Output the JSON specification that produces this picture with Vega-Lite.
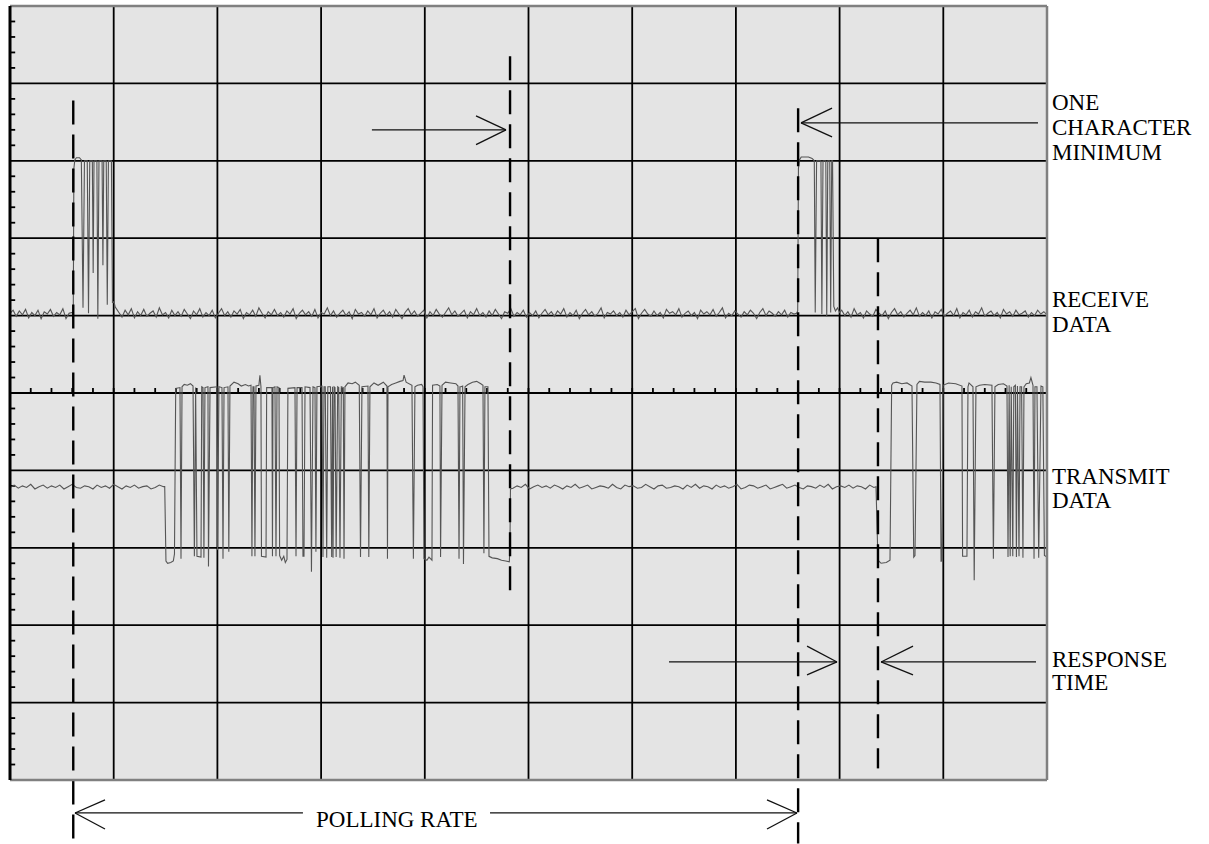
{
  "$schema": "https://vega.github.io/schema/vega-lite/v6.json",
  "width": 1037,
  "height": 774,
  "autosize": {"type": "none"},
  "padding": {"left": 10, "top": 6, "right": 162, "bottom": 64},
  "background": "white",
  "config": {"view": {"fill": "#e4e4e4", "stroke": null}},
  "datasets": {
    "gridV": [{"t":100},{"t":200},{"t":300},{"t":400},{"t":500},{"t":600},{"t":700},{"t":800},{"t":900}],
    "gridH": [{"v":100},{"v":200},{"v":300},{"v":400},{"v":500},{"v":600},{"v":700},{"v":800},{"v":900}],
    "leftTicks": [{"v":20},{"v":40},{"v":60},{"v":80},{"v":120},{"v":140},{"v":160},{"v":180},{"v":220},{"v":240},{"v":260},{"v":280},{"v":320},{"v":340},{"v":360},{"v":380},{"v":420},{"v":440},{"v":460},{"v":480},{"v":520},{"v":540},{"v":560},{"v":580},{"v":620},{"v":640},{"v":660},{"v":680},{"v":720},{"v":740},{"v":760},{"v":780},{"v":820},{"v":840},{"v":860},{"v":880},{"v":920},{"v":940},{"v":960},{"v":980}],
    "centerTicks": [{"t":20},{"t":40},{"t":60},{"t":80},{"t":100},{"t":120},{"t":140},{"t":160},{"t":180},{"t":200},{"t":220},{"t":240},{"t":260},{"t":280},{"t":300},{"t":320},{"t":340},{"t":360},{"t":380},{"t":400},{"t":420},{"t":440},{"t":460},{"t":480},{"t":500},{"t":520},{"t":540},{"t":560},{"t":580},{"t":600},{"t":620},{"t":640},{"t":660},{"t":680},{"t":700},{"t":720},{"t":740},{"t":760},{"t":780},{"t":800},{"t":820},{"t":840},{"t":860},{"t":880},{"t":900},{"t":920},{"t":940},{"t":960},{"t":980}],
    "dashed": [{"t":61,"v1":878,"v2":-82},{"t":482.2,"v1":935,"v2":245},{"t":760,"v1":868,"v2":-82},{"t":837,"v1":700,"v2":15}],
    "arrows": [
      {"t1":349,"v1":840,"t2":478.3,"v2":840},{"t1":478.3,"v1":840,"t2":449.4,"v2":858},{"t1":478.3,"v1":840,"t2":449.4,"v2":821},
      {"t1":762.8,"v1":849,"t2":991.3,"v2":849},{"t1":762.8,"v1":849,"t2":792.7,"v2":868},{"t1":762.8,"v1":849,"t2":792.7,"v2":831},
      {"t1":635.5,"v1":152.5,"t2":797.5,"v2":152.5},{"t1":797.5,"v1":152.5,"t2":768.6,"v2":173},{"t1":797.5,"v1":152.5,"t2":768.6,"v2":135.7},
      {"t1":840,"v1":152.5,"t2":989.4,"v2":152.5},{"t1":840,"v1":152.5,"t2":870.8,"v2":173},{"t1":840,"v1":152.5,"t2":870.8,"v2":135.7},
      {"t1":62.7,"v1":-42.6,"t2":282.5,"v2":-42.6},{"t1":462.9,"v1":-42.6,"t2":758.9,"v2":-42.6},
      {"t1":62.7,"v1":-42.6,"t2":91.6,"v2":-25.8},{"t1":62.7,"v1":-42.6,"t2":91.6,"v2":-63.3},
      {"t1":758.9,"v1":-42.6,"t2":730,"v2":-25.8},{"t1":758.9,"v1":-42.6,"t2":730,"v2":-63.3}
    ],
    "sideLabels": [{"t":1004.8,"v":865.6,"label":"ONE"},{"t":1004.8,"v":833.3,"label":"CHARACTER"},{"t":1004.8,"v":801,"label":"MINIMUM"},{"t":1004.8,"v":611,"label":"RECEIVE"},{"t":1004.8,"v":578.8,"label":"DATA"},{"t":1004.8,"v":382.4,"label":"TRANSMIT"},{"t":1004.8,"v":351.4,"label":"DATA"},{"t":1004.8,"v":146,"label":"RESPONSE"},{"t":1004.8,"v":116.3,"label":"TIME"}],
    "centerLabels": [{"t":373,"v":-60.7,"label":"POLLING RATE"}],
    "rx": [
      {"t":0,"v":603},{"t":3,"v":607},{"t":6,"v":599},{"t":9,"v":606},{"t":12,"v":601},{"t":15,"v":608},{"t":18,"v":597},{"t":21,"v":604},{"t":24,"v":600},{"t":27,"v":607},{"t":30,"v":596},{"t":33,"v":605},{"t":36,"v":602},{"t":39,"v":608},{"t":42,"v":599},{"t":45,"v":604},{"t":48,"v":601},{"t":51,"v":609},{"t":54,"v":596},{"t":57,"v":603},{"t":60,"v":604},
      {"t":61,"v":601},{"t":61.6,"v":790},{"t":62.5,"v":801},{"t":64,"v":804},{"t":67,"v":804},{"t":68.8,"v":801},{"t":70.4,"v":610},{"t":71.8,"v":800},{"t":74.5,"v":800},{"t":75.7,"v":603},{"t":76.9,"v":800},{"t":79.4,"v":800},{"t":80.2,"v":655},{"t":81,"v":800},{"t":83.8,"v":800},{"t":84.7,"v":596},{"t":85.8,"v":800},{"t":88.8,"v":800},{"t":89.6,"v":665},{"t":90.4,"v":800},{"t":92.8,"v":800},{"t":93.8,"v":614},{"t":94.9,"v":800},{"t":97.8,"v":800},{"t":98.8,"v":617},{"t":100.2,"v":618},{"t":101.5,"v":611},{"t":103,"v":608},
      {"t":105,"v":604},{"t":108,"v":598},{"t":111,"v":607},{"t":114,"v":601},{"t":117,"v":609},{"t":120,"v":597},{"t":123,"v":605},{"t":126,"v":600},{"t":129,"v":608},{"t":132,"v":599},
      {"t":135,"v":603},{"t":138,"v":606},{"t":141,"v":598},{"t":144,"v":610},{"t":147,"v":601},{"t":150,"v":604},{"t":153,"v":597},{"t":156,"v":607},{"t":159,"v":600},{"t":162,"v":605},
      {"t":165,"v":599},{"t":168,"v":608},{"t":171,"v":602},{"t":174,"v":596},{"t":177,"v":606},{"t":180,"v":601},{"t":183,"v":609},{"t":186,"v":598},{"t":189,"v":604},{"t":192,"v":600},
      {"t":195,"v":607},{"t":198,"v":597},{"t":201,"v":603},{"t":204,"v":609},{"t":207,"v":600},{"t":210,"v":605},{"t":213,"v":598},{"t":216,"v":606},{"t":219,"v":602},{"t":222,"v":608},
      {"t":225,"v":596},{"t":228,"v":604},{"t":231,"v":601},{"t":234,"v":607},{"t":237,"v":599},{"t":240,"v":610},{"t":243,"v":603},{"t":246,"v":597},{"t":249,"v":605},{"t":252,"v":601},
      {"t":255,"v":608},{"t":258,"v":600},{"t":261,"v":604},{"t":264,"v":598},{"t":267,"v":606},{"t":270,"v":602},{"t":273,"v":609},{"t":276,"v":596},{"t":279,"v":603},{"t":282,"v":607},
      {"t":285,"v":601},{"t":288,"v":605},{"t":291,"v":599},{"t":294,"v":608},{"t":297,"v":597},{"t":300,"v":604},{"t":303,"v":602},{"t":306,"v":610},{"t":309,"v":600},{"t":312,"v":606},
      {"t":315,"v":598},{"t":318,"v":603},{"t":321,"v":607},{"t":324,"v":600},{"t":327,"v":605},{"t":330,"v":596},{"t":333,"v":608},{"t":336,"v":602},{"t":339,"v":604},{"t":342,"v":599},
      {"t":345,"v":606},{"t":348,"v":601},{"t":351,"v":609},{"t":354,"v":597},{"t":357,"v":603},{"t":360,"v":607},{"t":363,"v":600},{"t":366,"v":605},{"t":369,"v":598},{"t":372,"v":608},
      {"t":375,"v":602},{"t":378,"v":596},{"t":381,"v":604},{"t":384,"v":609},{"t":387,"v":601},{"t":390,"v":606},{"t":393,"v":599},{"t":396,"v":603},{"t":399,"v":607},{"t":402,"v":597},
      {"t":405,"v":605},{"t":408,"v":600},{"t":411,"v":608},{"t":414,"v":602},{"t":417,"v":598},{"t":420,"v":604},{"t":423,"v":610},{"t":426,"v":601},{"t":429,"v":606},{"t":432,"v":599},
      {"t":435,"v":603},{"t":438,"v":607},{"t":441,"v":597},{"t":444,"v":605},{"t":447,"v":601},{"t":450,"v":609},{"t":453,"v":600},{"t":456,"v":604},{"t":459,"v":598},{"t":462,"v":606},
      {"t":465,"v":600},{"t":468,"v":608},{"t":471,"v":602},{"t":474,"v":596},{"t":477,"v":605},{"t":480,"v":603},{"t":483,"v":609},{"t":486,"v":599},{"t":489,"v":604},{"t":492,"v":601},
      {"t":495,"v":607},{"t":498,"v":598},{"t":501,"v":604},{"t":504,"v":600},{"t":507,"v":606},{"t":510,"v":597},{"t":513,"v":603},{"t":516,"v":608},{"t":519,"v":601},{"t":522,"v":605},
      {"t":525,"v":599},{"t":528,"v":606},{"t":531,"v":602},{"t":534,"v":609},{"t":537,"v":598},{"t":540,"v":604},{"t":543,"v":600},{"t":546,"v":607},{"t":549,"v":596},{"t":552,"v":603},
      {"t":555,"v":608},{"t":558,"v":601},{"t":561,"v":605},{"t":564,"v":599},{"t":567,"v":603},{"t":570,"v":610},{"t":573,"v":597},{"t":576,"v":604},{"t":579,"v":602},{"t":582,"v":606},
      {"t":585,"v":600},{"t":588,"v":604},{"t":591,"v":598},{"t":594,"v":607},{"t":597,"v":601},{"t":600,"v":605},{"t":603,"v":609},{"t":606,"v":596},{"t":609,"v":603},{"t":612,"v":608},
      {"t":615,"v":602},{"t":618,"v":599},{"t":621,"v":606},{"t":624,"v":600},{"t":627,"v":604},{"t":630,"v":597},{"t":633,"v":608},{"t":636,"v":603},{"t":639,"v":605},{"t":642,"v":601},
      {"t":645,"v":609},{"t":648,"v":598},{"t":651,"v":603},{"t":654,"v":606},{"t":657,"v":600},{"t":660,"v":604},{"t":663,"v":596},{"t":666,"v":607},{"t":669,"v":602},{"t":672,"v":605},
      {"t":675,"v":601},{"t":678,"v":608},{"t":681,"v":599},{"t":684,"v":604},{"t":687,"v":610},{"t":690,"v":597},{"t":693,"v":603},{"t":696,"v":600},{"t":699,"v":606},{"t":702,"v":602},
      {"t":705,"v":598},{"t":708,"v":605},{"t":711,"v":601},{"t":714,"v":607},{"t":717,"v":603},{"t":720,"v":596},{"t":723,"v":604},{"t":726,"v":609},{"t":729,"v":600},{"t":732,"v":606},
      {"t":735,"v":603},{"t":738,"v":599},{"t":741,"v":605},{"t":744,"v":601},{"t":747,"v":607},{"t":750,"v":598},{"t":753,"v":604},{"t":756,"v":602},
      {"t":758.5,"v":603},{"t":759.6,"v":606},{"t":760.3,"v":790},{"t":761.3,"v":801},{"t":763,"v":805},{"t":770,"v":805},{"t":773.5,"v":803},{"t":775.6,"v":800},{"t":776.5,"v":604},{"t":777.8,"v":800},{"t":782,"v":800},{"t":782.9,"v":602},{"t":784,"v":800},{"t":786.7,"v":800},{"t":787.6,"v":599},{"t":788.6,"v":800},{"t":790.5,"v":800},{"t":791.4,"v":604},{"t":792.4,"v":800},{"t":793.2,"v":800},{"t":794.4,"v":612},{"t":796,"v":606},{"t":798,"v":610},{"t":800,"v":604},
      {"t":802,"v":607},{"t":805,"v":600},{"t":808,"v":605},{"t":811,"v":598},{"t":814,"v":609},{"t":817,"v":601},{"t":820,"v":604},{"t":823,"v":597},{"t":826,"v":606},{"t":829,"v":602},
      {"t":832,"v":599},{"t":835,"v":608},{"t":838,"v":603},{"t":841,"v":600},{"t":844,"v":606},{"t":847,"v":596},{"t":850,"v":604},{"t":853,"v":609},{"t":856,"v":601},{"t":859,"v":605},
      {"t":862,"v":598},{"t":865,"v":603},{"t":868,"v":607},{"t":871,"v":601},{"t":874,"v":610},{"t":877,"v":599},{"t":880,"v":604},{"t":883,"v":600},{"t":886,"v":606},{"t":889,"v":597},
      {"t":892,"v":605},{"t":895,"v":602},{"t":898,"v":608},{"t":901,"v":599},{"t":904,"v":603},{"t":907,"v":606},{"t":910,"v":600},{"t":913,"v":609},{"t":916,"v":597},{"t":919,"v":604},
      {"t":922,"v":601},{"t":925,"v":607},{"t":928,"v":598},{"t":931,"v":605},{"t":934,"v":602},{"t":937,"v":610},{"t":940,"v":599},{"t":943,"v":603},{"t":946,"v":606},{"t":949,"v":600},
      {"t":952,"v":604},{"t":955,"v":597},{"t":958,"v":608},{"t":961,"v":602},{"t":964,"v":605},{"t":967,"v":599},{"t":970,"v":607},{"t":973,"v":601},{"t":976,"v":603},{"t":979,"v":606},
      {"t":982,"v":598},{"t":985,"v":604},{"t":988,"v":600},{"t":991,"v":607},{"t":994,"v":602},{"t":997,"v":605},{"t":1000,"v":601}
    ],
    "tx": [
      {"t":0,"v":378},{"t":4,"v":381},{"t":8,"v":377},{"t":12,"v":380},{"t":16,"v":378},{"t":20,"v":382},{"t":24,"v":376},{"t":28,"v":379},{"t":32,"v":381},{"t":36,"v":377},
      {"t":40,"v":380},{"t":44,"v":378},{"t":48,"v":381},{"t":52,"v":376},{"t":56,"v":379},{"t":60,"v":382},{"t":64,"v":378},{"t":68,"v":377},{"t":72,"v":380},{"t":76,"v":379},
      {"t":80,"v":376},{"t":84,"v":381},{"t":88,"v":378},{"t":92,"v":380},{"t":96,"v":377},{"t":100,"v":382},{"t":104,"v":379},{"t":108,"v":376},{"t":112,"v":380},{"t":116,"v":378},
      {"t":120,"v":381},{"t":124,"v":377},{"t":128,"v":379},{"t":132,"v":380},{"t":136,"v":376},{"t":140,"v":378},{"t":144,"v":381},{"t":148,"v":379},
      {"t":149.2,"v":379},{"t":150.4,"v":283},{"t":152,"v":280},{"t":155,"v":281},{"t":157.5,"v":283},{"t":158.6,"v":292},{"t":159.8,"v":506},{"t":163.9,"v":507},{"t":164.9,"v":286},{"t":165.9,"v":508},{"t":168,"v":511},{"t":171,"v":510},{"t":174,"v":512},{"t":176.5,"v":509},{"t":177.8,"v":289},{"t":179,"v":507},{"t":180.3,"v":289},{"t":184.2,"v":288},{"t":184.9,"v":508},{"t":186.1,"v":507},{"t":187,"v":287},{"t":188,"v":507},{"t":190.9,"v":508},{"t":191.4,"v":276},{"t":192.9,"v":507},{"t":199.6,"v":508},{"t":200.1,"v":297},{"t":201.5,"v":508},{"t":204.4,"v":507},{"t":205.4,"v":286},{"t":206.4,"v":507},{"t":210.2,"v":508},{"t":211,"v":295},{"t":212.1,"v":509},{"t":216,"v":514},{"t":220,"v":512},{"t":223,"v":509},{"t":227,"v":511},{"t":230,"v":509},{"t":232.4,"v":510},{"t":233.3,"v":289},{"t":234.3,"v":508},{"t":235.3,"v":508},{"t":236.2,"v":289},{"t":237.2,"v":509},{"t":240,"v":510},{"t":241,"v":523},{"t":242,"v":508},{"t":242.5,"v":289},{"t":246.9,"v":288},{"t":247.5,"v":507},{"t":252.6,"v":507},{"t":253.1,"v":289},{"t":253.6,"v":507},{"t":255.5,"v":508},{"t":256.5,"v":289},{"t":257.5,"v":508},{"t":259.4,"v":507},{"t":260,"v":290},{"t":262,"v":284},{"t":264,"v":289},{"t":265.5,"v":281},{"t":267.1,"v":285},{"t":268,"v":506},{"t":274.8,"v":507},{"t":275.8,"v":289},{"t":276.8,"v":507},{"t":281.6,"v":507},{"t":282.5,"v":289},{"t":283.5,"v":289},{"t":284.5,"v":508},{"t":289.3,"v":507},{"t":290.7,"v":269},{"t":292.2,"v":508},{"t":294.1,"v":507},{"t":295,"v":295},{"t":296,"v":508},{"t":300.9,"v":509},{"t":301.8,"v":288},{"t":302.8,"v":508},{"t":304,"v":508},{"t":305.4,"v":287},{"t":306.5,"v":508},{"t":309,"v":508},{"t":310.2,"v":288},{"t":311,"v":508},{"t":311.5,"v":287},{"t":312.5,"v":508},{"t":313.4,"v":507},{"t":314.5,"v":288},{"t":316,"v":508},{"t":317,"v":507},{"t":318.2,"v":287},{"t":319.5,"v":508},{"t":321.4,"v":507},{"t":322.1,"v":286},{"t":323,"v":508},{"t":326,"v":513},{"t":330,"v":512},{"t":333,"v":514},{"t":336.8,"v":510},{"t":338,"v":288},{"t":339.4,"v":508},{"t":345.2,"v":509},{"t":346,"v":288},{"t":347.1,"v":508},{"t":351,"v":513},{"t":355,"v":510},{"t":360,"v":514},{"t":363.5,"v":509},{"t":364,"v":286},{"t":364.5,"v":508},{"t":368,"v":511},{"t":372,"v":513},{"t":376,"v":515},{"t":379,"v":516},{"t":380,"v":523},{"t":382,"v":514},{"t":387.6,"v":510},{"t":389,"v":286},{"t":390.5,"v":508},{"t":393,"v":510},{"t":397,"v":511},{"t":398.3,"v":508},{"t":399.2,"v":286},{"t":402,"v":284},{"t":404,"v":288},{"t":406.9,"v":284},{"t":407.5,"v":510},{"t":412,"v":511},{"t":414.6,"v":509},{"t":415.2,"v":288},{"t":416.6,"v":510},{"t":420,"v":514},{"t":425,"v":513},{"t":430,"v":512},{"t":432,"v":509},{"t":433,"v":286},{"t":433.9,"v":508},{"t":434.9,"v":508},{"t":436.5,"v":509},{"t":437.3,"v":279},{"t":438.8,"v":508},{"t":441.6,"v":511},{"t":446,"v":514},{"t":450,"v":515},{"t":454,"v":512},{"t":456.1,"v":510},{"t":457,"v":293},{"t":458,"v":508},{"t":460.9,"v":508},{"t":461.9,"v":289},{"t":465,"v":287},{"t":470,"v":286},{"t":474,"v":284},{"t":478,"v":283},{"t":481.5,"v":282},{"t":482.1,"v":300},{"t":482.6,"v":376},
      {"t":485,"v":377},{"t":489,"v":380},{"t":493,"v":378},{"t":497,"v":382},{"t":501,"v":376},{"t":505,"v":379},{"t":509,"v":381},{"t":513,"v":378},{"t":517,"v":380},{"t":521,"v":377},
      {"t":525,"v":381},{"t":529,"v":379},{"t":533,"v":376},{"t":537,"v":380},{"t":541,"v":378},{"t":545,"v":382},{"t":549,"v":377},{"t":553,"v":379},{"t":557,"v":381},{"t":561,"v":376},
      {"t":565,"v":378},{"t":569,"v":380},{"t":573,"v":379},{"t":577,"v":377},{"t":581,"v":382},{"t":585,"v":378},{"t":589,"v":376},{"t":593,"v":381},{"t":597,"v":379},{"t":601,"v":380},
      {"t":605,"v":377},{"t":609,"v":378},{"t":613,"v":382},{"t":617,"v":379},{"t":621,"v":376},{"t":625,"v":380},{"t":629,"v":381},{"t":633,"v":377},{"t":637,"v":378},{"t":641,"v":380},
      {"t":645,"v":379},{"t":649,"v":376},{"t":653,"v":381},{"t":657,"v":378},{"t":661,"v":382},{"t":665,"v":377},{"t":669,"v":380},{"t":673,"v":379},{"t":677,"v":376},{"t":681,"v":381},
      {"t":685,"v":378},{"t":689,"v":380},{"t":693,"v":377},{"t":697,"v":379},{"t":701,"v":382},{"t":705,"v":376},{"t":709,"v":378},{"t":713,"v":381},{"t":717,"v":380},{"t":721,"v":377},
      {"t":725,"v":379},{"t":729,"v":381},{"t":733,"v":376},{"t":737,"v":378},{"t":741,"v":380},{"t":745,"v":382},{"t":749,"v":377},{"t":753,"v":379},{"t":757,"v":381},{"t":761,"v":378},
      {"t":765,"v":376},{"t":769,"v":380},{"t":773,"v":379},{"t":777,"v":377},{"t":781,"v":381},{"t":785,"v":378},{"t":789,"v":382},{"t":793,"v":376},{"t":797,"v":379},{"t":801,"v":380},
      {"t":805,"v":378},{"t":809,"v":381},{"t":813,"v":377},{"t":817,"v":380},{"t":821,"v":379},{"t":825,"v":376},{"t":829,"v":381},{"t":833,"v":378},
      {"t":835.1,"v":379},{"t":837,"v":284},{"t":840,"v":280},{"t":845,"v":281},{"t":848.6,"v":284},{"t":850.2,"v":510},{"t":851.5,"v":513},{"t":855,"v":514},{"t":860,"v":512},{"t":865,"v":513},{"t":869.8,"v":509},{"t":871.5,"v":288},{"t":872.7,"v":290},{"t":874.6,"v":511},{"t":877,"v":515},{"t":882,"v":514},{"t":888,"v":514},{"t":893,"v":513},{"t":896.8,"v":511},{"t":897.8,"v":282},{"t":898.7,"v":285},{"t":899.7,"v":510},{"t":905,"v":513},{"t":912,"v":512},{"t":918,"v":509},{"t":918.6,"v":289},{"t":922.8,"v":289},{"t":923.8,"v":508},{"t":924.8,"v":513},{"t":928.6,"v":508},{"t":929.8,"v":258},{"t":931.5,"v":508},{"t":935,"v":510},{"t":940,"v":511},{"t":946.9,"v":510},{"t":948.3,"v":286},{"t":949.8,"v":508},{"t":953,"v":511},{"t":958,"v":512},{"t":961.4,"v":509},{"t":962.4,"v":288},{"t":963.5,"v":510},{"t":964.5,"v":289},{"t":965.5,"v":508},{"t":967,"v":289},{"t":968,"v":508},{"t":969.5,"v":510},{"t":970.5,"v":288},{"t":971.5,"v":509},{"t":973,"v":289},{"t":974,"v":508},{"t":975.5,"v":508},{"t":976.8,"v":287},{"t":977.8,"v":508},{"t":980,"v":512},{"t":983,"v":513},{"t":984.5,"v":520},{"t":986.5,"v":510},{"t":987.5,"v":286},{"t":988.4,"v":508},{"t":990.3,"v":508},{"t":992,"v":287},{"t":994.2,"v":509},{"t":996,"v":508},{"t":997.5,"v":290},{"t":1000,"v":288}
    ]
  },
  "layer": [
    {
      "data": {"name": "gridV"},
      "mark": {"type": "rule", "color": "#000000", "strokeWidth": 1.8},
      "encoding": {
        "x": {"field": "t", "type": "quantitative", "scale": {"domain": [0, 1000], "nice": false, "zero": false}, "axis": null}
      }
    },
    {
      "data": {"name": "gridH"},
      "mark": {"type": "rule", "color": "#000000", "strokeWidth": 1.8},
      "encoding": {
        "y": {"field": "v", "type": "quantitative", "scale": {"domain": [0, 1000], "nice": false, "zero": false}, "axis": null}
      }
    },
    {
      "data": {"name": "leftTicks"},
      "mark": {"type": "rule", "color": "#000000", "strokeWidth": 1.8},
      "encoding": {
        "x": {"datum": 0, "type": "quantitative"},
        "x2": {"datum": 5},
        "y": {"field": "v", "type": "quantitative"}
      }
    },
    {
      "data": {"name": "centerTicks"},
      "mark": {"type": "rule", "color": "#000000", "strokeWidth": 1.8},
      "encoding": {
        "x": {"field": "t", "type": "quantitative"},
        "y": {"datum": 500, "type": "quantitative"},
        "y2": {"datum": 506.5}
      }
    },
    {
      "data": {"name": "rx"},
      "mark": {"type": "line", "color": "#555555", "strokeWidth": 1.1},
      "encoding": {
        "x": {"field": "t", "type": "quantitative"},
        "y": {"field": "v", "type": "quantitative"}
      }
    },
    {
      "data": {"name": "tx"},
      "mark": {"type": "line", "color": "#555555", "strokeWidth": 1.1},
      "encoding": {
        "x": {"field": "t", "type": "quantitative"},
        "y": {"field": "v", "type": "quantitative"}
      }
    },
    {
      "data": {"name": "dashed"},
      "mark": {"type": "rule", "color": "#000000", "strokeWidth": 2.4, "strokeDash": [24, 10]},
      "encoding": {
        "x": {"field": "t", "type": "quantitative"},
        "y": {"field": "v1", "type": "quantitative"},
        "y2": {"field": "v2"}
      }
    },
    {
      "data": {"name": "arrows"},
      "mark": {"type": "rule", "color": "#111111", "strokeWidth": 1.3},
      "encoding": {
        "x": {"field": "t1", "type": "quantitative"},
        "x2": {"field": "t2"},
        "y": {"field": "v1", "type": "quantitative"},
        "y2": {"field": "v2"}
      }
    },
    {
      "data": {"values": [{"v": 1000}, {"v": 0}]},
      "mark": {"type": "rule", "color": "#808080", "strokeWidth": 2.5},
      "encoding": {"y": {"field": "v", "type": "quantitative"}}
    },
    {
      "data": {"values": [{"t": 1000}]},
      "mark": {"type": "rule", "color": "#808080", "strokeWidth": 2.5},
      "encoding": {"x": {"field": "t", "type": "quantitative"}}
    },
    {
      "data": {"values": [{"t": 0}]},
      "mark": {"type": "rule", "color": "#000000", "strokeWidth": 3},
      "encoding": {"x": {"field": "t", "type": "quantitative"}}
    },
    {
      "data": {"name": "sideLabels"},
      "mark": {"type": "text", "align": "left", "baseline": "alphabetic", "font": "Liberation Serif", "fontSize": 23, "color": "#000000"},
      "encoding": {
        "x": {"field": "t", "type": "quantitative"},
        "y": {"field": "v", "type": "quantitative"},
        "text": {"field": "label"}
      }
    },
    {
      "data": {"name": "centerLabels"},
      "mark": {"type": "text", "align": "center", "baseline": "alphabetic", "font": "Liberation Serif", "fontSize": 23, "color": "#000000"},
      "encoding": {
        "x": {"field": "t", "type": "quantitative"},
        "y": {"field": "v", "type": "quantitative"},
        "text": {"field": "label"}
      }
    }
  ]
}
